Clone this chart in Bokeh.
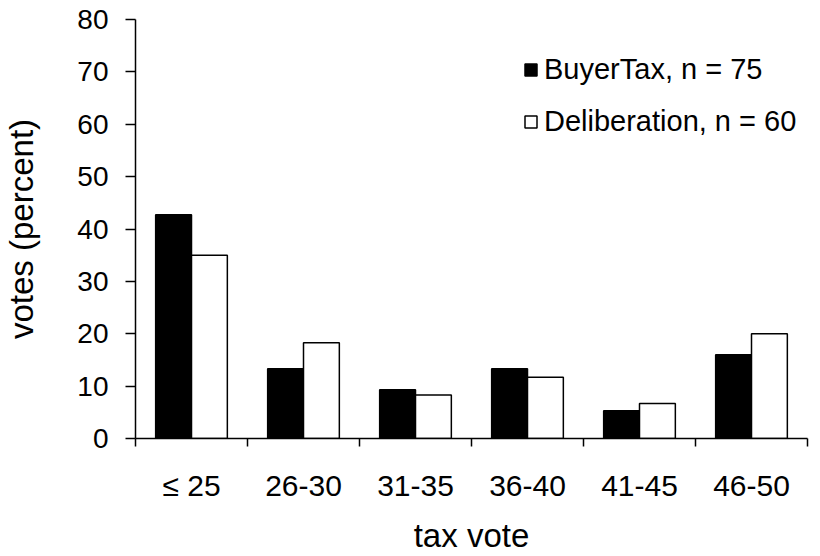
from bokeh.plotting import figure
from bokeh.models import Range1d, FixedTicker, ColumnDataSource
from bokeh.embed import file_html
from bokeh.resources import INLINE

categories = ["≤ 25", "26-30", "31-35", "36-40", "41-45", "46-50"]
buyertax = [42.7, 13.3, 9.3, 13.3, 5.3, 16.0]
deliberation = [35.0, 18.3, 8.3, 11.7, 6.7, 20.0]
series_names = ["BuyerTax, n = 75", "Deliberation, n = 60"]
y_ticks = [0, 10, 20, 30, 40, 50, 60, 70, 80]

FONT = "Liberation Sans"

idx = list(range(len(categories)))
centers = [i + 0.5 for i in idx]
off = 0.16
bw = 0.32

p = figure(frame_width=672, frame_height=419, output_backend="svg", toolbar_location=None,
           x_range=Range1d(0, len(categories)), y_range=Range1d(0, 80),
           min_border_left=134, min_border_top=19, min_border_right=6, min_border_bottom=100)
p.outline_line_color = None
p.xgrid.grid_line_color = None
p.ygrid.grid_line_color = None

src_a = ColumnDataSource(dict(x=[c - off for c in centers], top=buyertax))
src_b = ColumnDataSource(dict(x=[c + off for c in centers], top=deliberation))
p.vbar(x="x", top="top", width=bw, source=src_a, fill_color="black",
       line_color="black", line_width=1.5, legend_label=series_names[0])
p.vbar(x="x", top="top", width=bw, source=src_b, fill_color="white",
       line_color="black", line_width=1.5, legend_label=series_names[1])

# y axis
yax = p.yaxis[0]
yax.ticker = FixedTicker(ticks=y_ticks)
yax.major_tick_out = 10
yax.major_tick_in = 0
yax.minor_tick_out = 0
yax.minor_tick_in = 0
yax.axis_line_width = 1.5
yax.major_tick_line_width = 1.5
yax.major_label_text_font = FONT
yax.major_label_text_font_size = "28px"
yax.major_label_text_color = "black"
yax.major_label_standoff = 17
yax.axis_label = "votes (percent)"
yax.axis_label_text_font = FONT
yax.axis_label_text_font_size = "33px"
yax.axis_label_text_font_style = "normal"
yax.axis_label_text_color = "black"
yax.axis_label_standoff = 34

# x axis: labels at category centres, ticks at category boundaries
xax = p.xaxis[0]
xax.ticker = FixedTicker(ticks=centers, minor_ticks=[float(i) for i in range(len(categories) + 1)])
xax.major_label_overrides = {c: lab for c, lab in zip(centers, categories)}
xax.major_tick_out = 0
xax.major_tick_in = 0
xax.minor_tick_out = 8
xax.minor_tick_in = 0
xax.minor_tick_line_width = 1.5
xax.minor_tick_line_color = "black"
xax.axis_line_width = 1.5
xax.major_label_text_font = FONT
xax.major_label_text_font_size = "30px"
xax.major_label_text_color = "black"
xax.major_label_standoff = 22
xax.axis_label = "tax vote"
xax.axis_label_text_font = FONT
xax.axis_label_text_font_size = "33px"
xax.axis_label_text_font_style = "normal"
xax.axis_label_text_color = "black"
xax.axis_label_standoff = 12

lg = p.legend[0]
lg.location = (388, 300)
lg.border_line_color = None
lg.background_fill_alpha = 0
lg.padding = 0
lg.margin = 0
lg.spacing = 18
lg.glyph_width = 15
lg.glyph_height = 15
lg.label_height = 34
lg.label_standoff = 6
lg.label_text_font = FONT
lg.label_text_font_size = "29px"
lg.label_text_color = "black"

open("out.html", "w").write(file_html(p, INLINE))
